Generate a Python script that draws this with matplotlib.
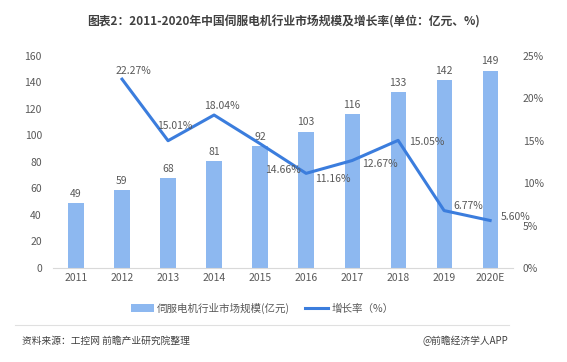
import matplotlib
matplotlib.use('Agg')
import matplotlib.pyplot as plt
from matplotlib.ticker import FuncFormatter

plt.rcParams['font.family'] = ['Noto Sans CJK SC', 'DejaVu Sans']

# 数据
years = ['2011', '2012', '2013', '2014', '2015', '2016', '2017', '2018', '2019', '2020E']
scale = [49, 59, 68, 81, 92, 103, 116, 133, 142, 149]
growth_years = years[1:]
growth = [22.27, 15.01, 18.04, 14.66, 11.16, 12.67, 15.05, 6.77, 5.60]

# 增长率标签偏移 (像素)
label_offsets = [(11, 8), (7, 15), (8, 9), (23, -26), (27, -6), (28, -3), (29, -2), (24, 5), (25, 4)]

bar_color = '#8db8f0'
line_color = '#3b7ddd'
text_grey = '#595959'

fig = plt.figure(figsize=(5.67, 3.62), dpi=100)
ax = fig.add_axes([0.0935, 0.2597, 0.8115, 0.5856])

x = list(range(len(years)))
bars = ax.bar(x, scale, width=0.33, color=bar_color, label='伺服电机行业市场规模(亿元)', zorder=2)
for xi, v in zip(x, scale):
    ax.annotate(str(v), (xi, v), xytext=(0, 3), textcoords='offset points',
                ha='center', va='bottom', fontsize=7.5, color=text_grey)

ax.set_xlim(-0.5, len(years) - 0.5)
ax.set_ylim(0, 160)
ax.set_yticks(range(0, 161, 20))
ax.set_xticks(x)
ax.set_xticklabels(years)
ax.tick_params(axis='both', length=0, labelsize=7.5, colors=text_grey)
ax.tick_params(axis='y', pad=8)
for s in ['top', 'right', 'left']:
    ax.spines[s].set_visible(False)
ax.spines['bottom'].set_color('#d9d9d9')

ax2 = ax.twinx()
gx = x[1:]
line, = ax2.plot(gx, growth, color=line_color, lw=2.2, label='增长率（%）', zorder=3)
ax2.set_ylim(0, 25)
ax2.set_yticks(range(0, 26, 5))
ax2.yaxis.set_major_formatter(FuncFormatter(lambda v, p: f'{v:.0f}%'))
ax2.tick_params(axis='y', length=0, labelsize=7.5, colors=text_grey, pad=7)
for s in ['top', 'right', 'left', 'bottom']:
    ax2.spines[s].set_visible(False)
for xi, v, off in zip(gx, growth, label_offsets):
    ax2.annotate(f'{v:.2f}%', (xi, v), xytext=off, textcoords='offset pixels',
                 ha='center', va='center', fontsize=7.5, color=text_grey)

fig.legend(handles=[bars, line], loc='center', bbox_to_anchor=(0.462, 0.148), ncol=2,
           frameon=False, fontsize=7.6, handlelength=2.2, columnspacing=1.4,
           labelcolor=text_grey, handletextpad=0.3)

fig.text(0.5, 0.94, '图表2：2011-2020年中国伺服电机行业市场规模及增长率(单位：亿元、%)',
         ha='center', va='center', fontsize=8.5, fontweight='bold', color='#404040')

fig.add_artist(plt.Line2D([0.027, 0.897], [0.102, 0.102], color='#e0e0e0', lw=0.8))
fig.text(0.038, 0.058, '资料来源：工控网 前瞻产业研究院整理', ha='left', va='center',
         fontsize=7, color='#404040')
fig.text(0.897, 0.058, '@前瞻经济学人APP', ha='right', va='center',
         fontsize=7, color='#404040')

fig.savefig('out.png', dpi=100)
